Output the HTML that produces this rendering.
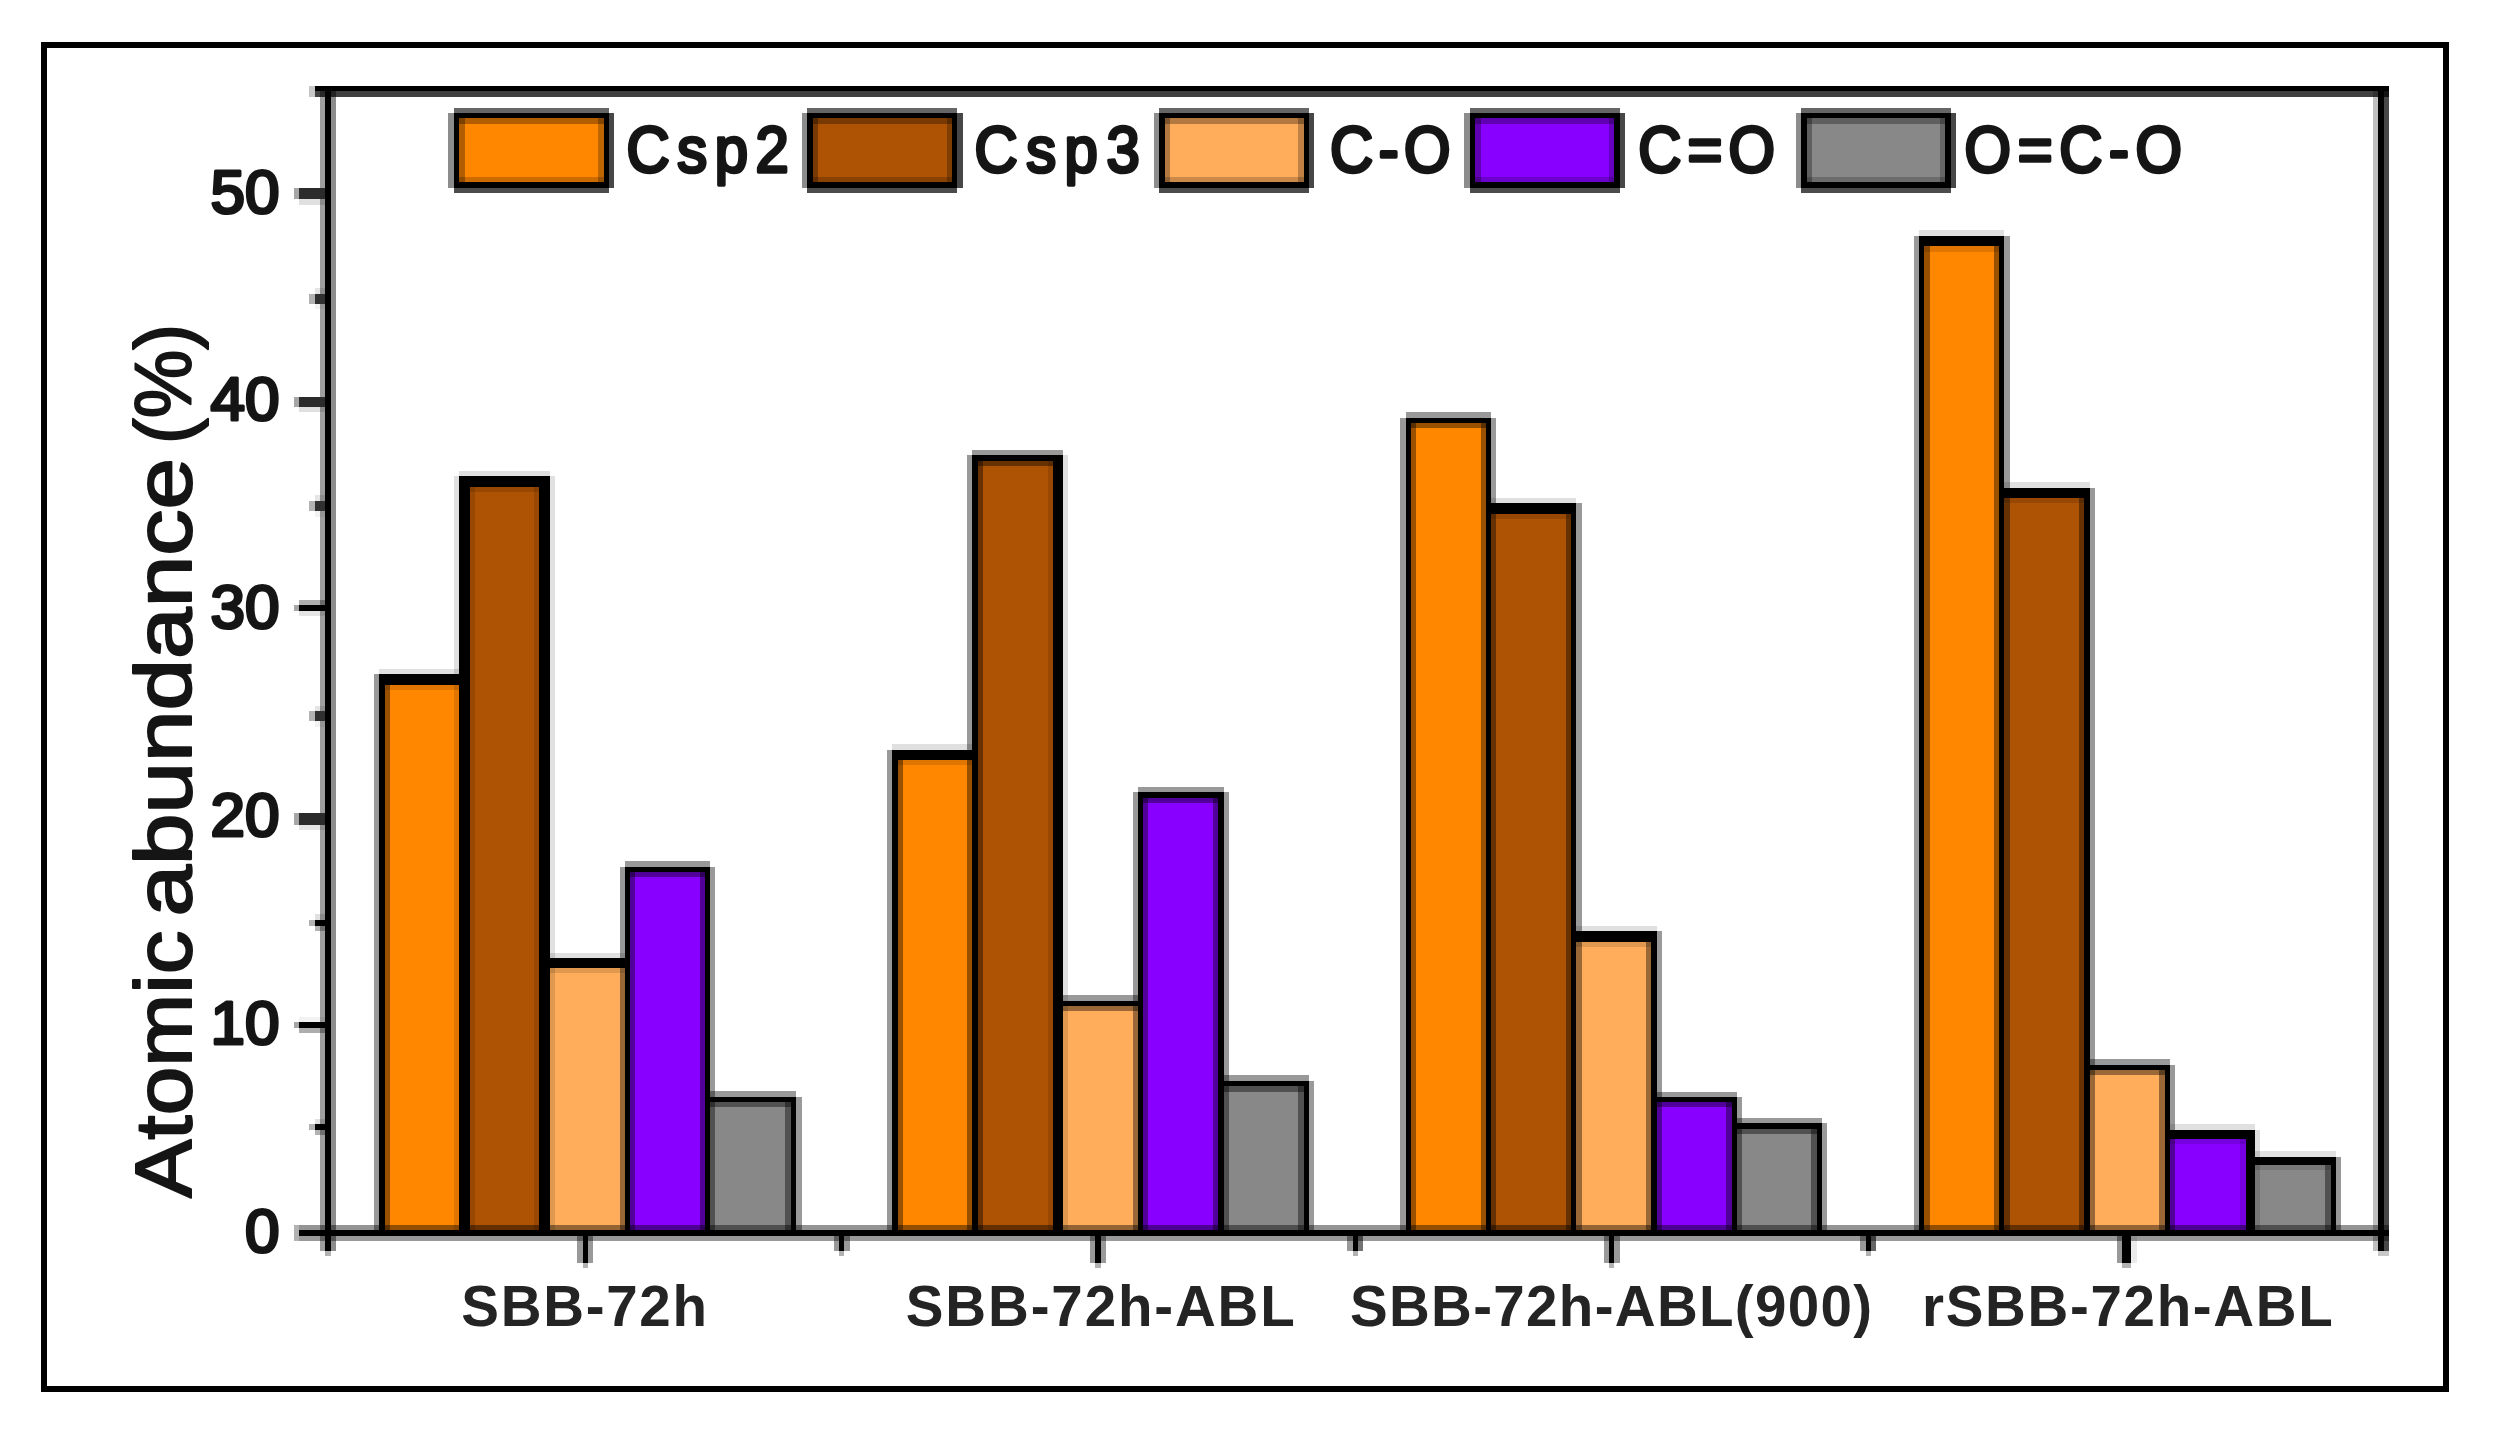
<!DOCTYPE html>
<html lang="en"><head><meta charset="utf-8"><title>Atomic abundance chart</title>
<style>
html,body{margin:0;padding:0;background:#fff;}
body{width:2496px;height:1432px;overflow:hidden;font-family:"Liberation Sans",Arial,sans-serif;}
svg text{font-family:"Liberation Sans",Arial,Helvetica,sans-serif;}
</style></head><body>
<svg width="2496" height="1432" viewBox="0 0 2496 1432" style="display:block" shape-rendering="crispEdges">
<rect width="2496" height="1432" fill="#fff"/>
<rect x="44" y="45" width="2402" height="1344" fill="none" stroke="#000" stroke-width="6"/>
<g id="fills">
<rect x="384.00" y="684.00" width="75.75" height="546.50" fill="#FF8700"/>
<rect x="469.50" y="486.25" width="70.00" height="744.25" fill="#AD5303"/>
<rect x="549.50" y="967.50" width="76.00" height="263.00" fill="#FFAD5B"/>
<rect x="629.50" y="871.50" width="76.00" height="359.00" fill="#8800FF"/>
<rect x="709.50" y="1101.50" width="81.75" height="129.00" fill="#888888"/>
<rect x="897.10" y="759.00" width="75.50" height="471.50" fill="#FF8700"/>
<rect x="977.10" y="460.00" width="76.40" height="770.50" fill="#AD5303"/>
<rect x="1062.50" y="1005.25" width="76.00" height="225.25" fill="#FFAD5B"/>
<rect x="1142.50" y="797.00" width="76.00" height="433.50" fill="#8800FF"/>
<rect x="1223.00" y="1085.75" width="81.00" height="144.75" fill="#888888"/>
<rect x="1410.10" y="422.50" width="76.30" height="808.00" fill="#FF8700"/>
<rect x="1490.50" y="513.25" width="81.00" height="717.25" fill="#AD5303"/>
<rect x="1575.70" y="941.25" width="76.05" height="289.25" fill="#FFAD5B"/>
<rect x="1656.25" y="1101.50" width="76.00" height="129.00" fill="#8800FF"/>
<rect x="1736.25" y="1128.25" width="81.00" height="102.25" fill="#888888"/>
<rect x="1923.75" y="245.75" width="75.75" height="984.75" fill="#FF8700"/>
<rect x="2003.90" y="497.00" width="80.90" height="733.50" fill="#AD5303"/>
<rect x="2089.30" y="1069.50" width="75.70" height="161.00" fill="#FFAD5B"/>
<rect x="2169.50" y="1138.25" width="76.75" height="92.25" fill="#8800FF"/>
<rect x="2254.00" y="1164.50" width="77.25" height="66.00" fill="#888888"/>
<rect x="458.70" y="117.70" width="145.35" height="64.80" fill="#FF8700"/>
<rect x="812.20" y="117.70" width="140.10" height="64.80" fill="#AD5303"/>
<rect x="1164.50" y="117.70" width="139.50" height="64.80" fill="#FFAD5B"/>
<rect x="1474.70" y="117.70" width="140.10" height="64.80" fill="#8800FF"/>
<rect x="1806.50" y="117.70" width="139.40" height="64.80" fill="#888888"/>
</g>
<g id="flanks">
<rect x="379.25" y="668.95" width="90.75" height="5.30" fill="#000" fill-opacity="0.12"/>
<rect x="379.25" y="684.50" width="90.75" height="5.30" fill="#000" fill-opacity="0.12"/>
<rect x="459.25" y="470.95" width="90.75" height="5.30" fill="#000" fill-opacity="0.12"/>
<rect x="459.25" y="486.75" width="90.75" height="5.30" fill="#000" fill-opacity="0.12"/>
<rect x="539.00" y="952.70" width="91.00" height="5.30" fill="#000" fill-opacity="0.12"/>
<rect x="539.00" y="968.00" width="91.00" height="5.30" fill="#000" fill-opacity="0.12"/>
<rect x="625.00" y="861.45" width="85.00" height="5.30" fill="#000" fill-opacity="0.4"/>
<rect x="625.00" y="872.00" width="85.00" height="5.30" fill="#000" fill-opacity="0.4"/>
<rect x="705.00" y="1091.20" width="91.25" height="5.30" fill="#000" fill-opacity="0.4"/>
<rect x="705.00" y="1102.00" width="91.25" height="5.30" fill="#000" fill-opacity="0.4"/>
<rect x="373.95" y="674.25" width="5.30" height="555.75" fill="#000" fill-opacity="0.4"/>
<rect x="384.50" y="674.25" width="5.30" height="555.75" fill="#000" fill-opacity="0.4"/>
<rect x="453.95" y="476.25" width="5.30" height="753.75" fill="#000" fill-opacity="0.12"/>
<rect x="470.00" y="476.25" width="5.30" height="753.75" fill="#000" fill-opacity="0.12"/>
<rect x="533.70" y="476.25" width="5.30" height="753.75" fill="#000" fill-opacity="0.12"/>
<rect x="550.00" y="476.25" width="5.30" height="753.75" fill="#000" fill-opacity="0.12"/>
<rect x="619.70" y="866.75" width="5.30" height="363.25" fill="#000" fill-opacity="0.4"/>
<rect x="630.00" y="866.75" width="5.30" height="363.25" fill="#000" fill-opacity="0.4"/>
<rect x="699.70" y="866.75" width="5.30" height="363.25" fill="#000" fill-opacity="0.4"/>
<rect x="710.00" y="866.75" width="5.30" height="363.25" fill="#000" fill-opacity="0.4"/>
<rect x="785.45" y="1096.50" width="5.30" height="133.50" fill="#000" fill-opacity="0.4"/>
<rect x="796.25" y="1096.50" width="5.30" height="133.50" fill="#000" fill-opacity="0.4"/>
<rect x="892.00" y="744.20" width="85.60" height="5.30" fill="#000" fill-opacity="0.12"/>
<rect x="892.00" y="759.50" width="85.60" height="5.30" fill="#000" fill-opacity="0.12"/>
<rect x="972.10" y="449.70" width="90.90" height="5.30" fill="#000" fill-opacity="0.4"/>
<rect x="972.10" y="460.50" width="90.90" height="5.30" fill="#000" fill-opacity="0.4"/>
<rect x="1053.00" y="995.20" width="90.00" height="5.30" fill="#000" fill-opacity="0.4"/>
<rect x="1053.00" y="1005.75" width="90.00" height="5.30" fill="#000" fill-opacity="0.4"/>
<rect x="1138.00" y="786.70" width="85.50" height="5.30" fill="#000" fill-opacity="0.4"/>
<rect x="1138.00" y="797.50" width="85.50" height="5.30" fill="#000" fill-opacity="0.4"/>
<rect x="1218.00" y="1075.45" width="91.00" height="5.30" fill="#000" fill-opacity="0.4"/>
<rect x="1218.00" y="1086.25" width="91.00" height="5.30" fill="#000" fill-opacity="0.4"/>
<rect x="886.70" y="749.50" width="5.30" height="480.50" fill="#000" fill-opacity="0.4"/>
<rect x="897.60" y="749.50" width="5.30" height="480.50" fill="#000" fill-opacity="0.4"/>
<rect x="966.80" y="455.00" width="5.30" height="775.00" fill="#000" fill-opacity="0.4"/>
<rect x="977.60" y="455.00" width="5.30" height="775.00" fill="#000" fill-opacity="0.4"/>
<rect x="1047.70" y="455.00" width="5.30" height="775.00" fill="#000" fill-opacity="0.12"/>
<rect x="1063.00" y="455.00" width="5.30" height="775.00" fill="#000" fill-opacity="0.12"/>
<rect x="1132.70" y="792.00" width="5.30" height="438.00" fill="#000" fill-opacity="0.4"/>
<rect x="1143.00" y="792.00" width="5.30" height="438.00" fill="#000" fill-opacity="0.4"/>
<rect x="1212.70" y="792.00" width="5.30" height="438.00" fill="#000" fill-opacity="0.4"/>
<rect x="1223.50" y="792.00" width="5.30" height="438.00" fill="#000" fill-opacity="0.4"/>
<rect x="1298.20" y="1080.75" width="5.30" height="149.25" fill="#000" fill-opacity="0.4"/>
<rect x="1309.00" y="1080.75" width="5.30" height="149.25" fill="#000" fill-opacity="0.4"/>
<rect x="1405.50" y="412.20" width="85.50" height="5.30" fill="#000" fill-opacity="0.4"/>
<rect x="1405.50" y="423.00" width="85.50" height="5.30" fill="#000" fill-opacity="0.4"/>
<rect x="1485.90" y="497.70" width="90.30" height="5.30" fill="#000" fill-opacity="0.12"/>
<rect x="1485.90" y="513.75" width="90.30" height="5.30" fill="#000" fill-opacity="0.12"/>
<rect x="1571.00" y="925.70" width="85.75" height="5.30" fill="#000" fill-opacity="0.12"/>
<rect x="1571.00" y="941.75" width="85.75" height="5.30" fill="#000" fill-opacity="0.12"/>
<rect x="1651.25" y="1091.70" width="85.50" height="5.30" fill="#000" fill-opacity="0.4"/>
<rect x="1651.25" y="1102.00" width="85.50" height="5.30" fill="#000" fill-opacity="0.4"/>
<rect x="1731.75" y="1117.70" width="90.00" height="5.30" fill="#000" fill-opacity="0.4"/>
<rect x="1731.75" y="1128.75" width="90.00" height="5.30" fill="#000" fill-opacity="0.4"/>
<rect x="1400.20" y="417.50" width="5.30" height="812.50" fill="#000" fill-opacity="0.4"/>
<rect x="1410.60" y="417.50" width="5.30" height="812.50" fill="#000" fill-opacity="0.4"/>
<rect x="1480.60" y="417.50" width="5.30" height="812.50" fill="#000" fill-opacity="0.4"/>
<rect x="1491.00" y="417.50" width="5.30" height="812.50" fill="#000" fill-opacity="0.4"/>
<rect x="1565.70" y="503.00" width="5.30" height="727.00" fill="#000" fill-opacity="0.4"/>
<rect x="1576.20" y="503.00" width="5.30" height="727.00" fill="#000" fill-opacity="0.4"/>
<rect x="1645.95" y="931.00" width="5.30" height="299.00" fill="#000" fill-opacity="0.4"/>
<rect x="1656.75" y="931.00" width="5.30" height="299.00" fill="#000" fill-opacity="0.4"/>
<rect x="1726.45" y="1097.00" width="5.30" height="133.00" fill="#000" fill-opacity="0.4"/>
<rect x="1736.75" y="1097.00" width="5.30" height="133.00" fill="#000" fill-opacity="0.4"/>
<rect x="1811.45" y="1123.00" width="5.30" height="107.00" fill="#000" fill-opacity="0.4"/>
<rect x="1821.75" y="1123.00" width="5.30" height="107.00" fill="#000" fill-opacity="0.4"/>
<rect x="1919.10" y="230.45" width="85.30" height="5.30" fill="#000" fill-opacity="0.12"/>
<rect x="1919.10" y="246.25" width="85.30" height="5.30" fill="#000" fill-opacity="0.12"/>
<rect x="1999.00" y="482.20" width="90.80" height="5.30" fill="#000" fill-opacity="0.12"/>
<rect x="1999.00" y="497.50" width="90.80" height="5.30" fill="#000" fill-opacity="0.12"/>
<rect x="2084.30" y="1059.20" width="85.70" height="5.30" fill="#000" fill-opacity="0.4"/>
<rect x="2084.30" y="1070.00" width="85.70" height="5.30" fill="#000" fill-opacity="0.4"/>
<rect x="2164.50" y="1124.20" width="90.00" height="5.30" fill="#000" fill-opacity="0.12"/>
<rect x="2164.50" y="1138.75" width="90.00" height="5.30" fill="#000" fill-opacity="0.12"/>
<rect x="2245.75" y="1151.45" width="90.00" height="5.30" fill="#000" fill-opacity="0.12"/>
<rect x="2245.75" y="1165.00" width="90.00" height="5.30" fill="#000" fill-opacity="0.12"/>
<rect x="1913.80" y="235.75" width="5.30" height="994.25" fill="#000" fill-opacity="0.4"/>
<rect x="1924.25" y="235.75" width="5.30" height="994.25" fill="#000" fill-opacity="0.4"/>
<rect x="1993.70" y="235.75" width="5.30" height="994.25" fill="#000" fill-opacity="0.4"/>
<rect x="2004.40" y="235.75" width="5.30" height="994.25" fill="#000" fill-opacity="0.4"/>
<rect x="2079.00" y="487.50" width="5.30" height="742.50" fill="#000" fill-opacity="0.4"/>
<rect x="2089.80" y="487.50" width="5.30" height="742.50" fill="#000" fill-opacity="0.4"/>
<rect x="2159.20" y="1064.50" width="5.30" height="165.50" fill="#000" fill-opacity="0.4"/>
<rect x="2170.00" y="1064.50" width="5.30" height="165.50" fill="#000" fill-opacity="0.4"/>
<rect x="2240.45" y="1129.50" width="5.30" height="100.50" fill="#000" fill-opacity="0.12"/>
<rect x="2254.50" y="1129.50" width="5.30" height="100.50" fill="#000" fill-opacity="0.12"/>
<rect x="2325.45" y="1156.75" width="5.30" height="73.25" fill="#000" fill-opacity="0.4"/>
<rect x="2335.75" y="1156.75" width="5.30" height="73.25" fill="#000" fill-opacity="0.4"/>
<rect x="315.00" y="91.30" width="2074.00" height="5.30" fill="#000" fill-opacity="0.75"/>
<rect x="309.00" y="86.00" width="6.00" height="11.00" fill="#000" fill-opacity="0.22"/>
<rect x="319.70" y="86.00" width="5.30" height="1165.00" fill="#000" fill-opacity="0.38"/>
<rect x="330.50" y="86.00" width="5.30" height="1165.00" fill="#000" fill-opacity="0.45"/>
<rect x="325.00" y="1251.00" width="5.50" height="5.00" fill="#000" fill-opacity="0.3"/>
<rect x="2372.95" y="86.00" width="5.30" height="1165.00" fill="#000" fill-opacity="0.25"/>
<rect x="2383.60" y="86.00" width="5.30" height="1165.00" fill="#000" fill-opacity="0.72"/>
<rect x="2378.00" y="1251.00" width="11.00" height="5.00" fill="#000" fill-opacity="0.22"/>
<rect x="298.75" y="1224.70" width="2090.25" height="5.30" fill="#000" fill-opacity="0.42"/>
<rect x="298.75" y="1235.50" width="2090.25" height="5.30" fill="#000" fill-opacity="0.4"/>
<rect x="293.50" y="1224.70" width="5.25" height="16.10" fill="#000" fill-opacity="0.3"/>
<rect x="298.75" y="199.20" width="26.25" height="5.30" fill="#000" fill-opacity="0.12"/>
<rect x="293.50" y="188.00" width="5.25" height="11.20" fill="#000" fill-opacity="0.35"/>
<rect x="298.75" y="407.00" width="26.25" height="5.30" fill="#000" fill-opacity="0.12"/>
<rect x="293.50" y="396.70" width="5.25" height="10.30" fill="#000" fill-opacity="0.35"/>
<rect x="298.75" y="599.50" width="26.25" height="5.30" fill="#000" fill-opacity="0.32"/>
<rect x="298.75" y="610.60" width="26.25" height="5.30" fill="#000" fill-opacity="0.1"/>
<rect x="293.50" y="604.80" width="5.25" height="5.80" fill="#000" fill-opacity="0.35"/>
<rect x="298.75" y="824.60" width="26.25" height="5.30" fill="#000" fill-opacity="0.1"/>
<rect x="293.50" y="813.20" width="5.25" height="11.40" fill="#000" fill-opacity="0.35"/>
<rect x="298.75" y="1016.70" width="26.25" height="5.30" fill="#000" fill-opacity="0.05"/>
<rect x="298.75" y="1027.60" width="26.25" height="5.30" fill="#000" fill-opacity="0.32"/>
<rect x="293.50" y="1022.00" width="5.25" height="5.60" fill="#000" fill-opacity="0.35"/>
<rect x="314.50" y="288.45" width="10.50" height="5.30" fill="#000" fill-opacity="0.1"/>
<rect x="314.50" y="303.90" width="10.50" height="5.30" fill="#000" fill-opacity="0.05"/>
<rect x="309.20" y="293.75" width="5.30" height="10.15" fill="#000" fill-opacity="0.3"/>
<rect x="314.50" y="495.30" width="10.50" height="5.30" fill="#000" fill-opacity="0.1"/>
<rect x="314.50" y="511.40" width="10.50" height="5.30" fill="#000" fill-opacity="0.05"/>
<rect x="309.20" y="500.60" width="5.30" height="10.80" fill="#000" fill-opacity="0.3"/>
<rect x="314.50" y="705.70" width="10.50" height="5.30" fill="#000" fill-opacity="0.1"/>
<rect x="314.50" y="721.40" width="10.50" height="5.30" fill="#000" fill-opacity="0.05"/>
<rect x="309.20" y="711.00" width="5.30" height="10.40" fill="#000" fill-opacity="0.3"/>
<rect x="314.50" y="914.40" width="10.50" height="5.30" fill="#000" fill-opacity="0.12"/>
<rect x="314.50" y="925.60" width="10.50" height="5.30" fill="#000" fill-opacity="0.3"/>
<rect x="309.20" y="919.70" width="5.30" height="5.90" fill="#000" fill-opacity="0.3"/>
<rect x="314.50" y="1118.60" width="10.50" height="5.30" fill="#000" fill-opacity="0.12"/>
<rect x="314.50" y="1129.60" width="10.50" height="5.30" fill="#000" fill-opacity="0.3"/>
<rect x="309.20" y="1123.90" width="5.30" height="5.70" fill="#000" fill-opacity="0.3"/>
<rect x="577.20" y="1235.50" width="5.30" height="27.00" fill="#000" fill-opacity="0.4"/>
<rect x="587.60" y="1235.50" width="5.30" height="27.00" fill="#000" fill-opacity="0.4"/>
<rect x="582.50" y="1262.50" width="5.10" height="5.00" fill="#000" fill-opacity="0.3"/>
<rect x="1089.90" y="1235.50" width="5.30" height="27.00" fill="#000" fill-opacity="0.4"/>
<rect x="1101.00" y="1235.50" width="5.30" height="27.00" fill="#000" fill-opacity="0.4"/>
<rect x="1095.20" y="1262.50" width="5.80" height="5.00" fill="#000" fill-opacity="0.3"/>
<rect x="1603.95" y="1235.50" width="5.30" height="27.00" fill="#000" fill-opacity="0.4"/>
<rect x="1614.40" y="1235.50" width="5.30" height="27.00" fill="#000" fill-opacity="0.4"/>
<rect x="1609.25" y="1262.50" width="5.15" height="5.00" fill="#000" fill-opacity="0.3"/>
<rect x="2116.70" y="1235.50" width="5.30" height="27.00" fill="#000" fill-opacity="0.4"/>
<rect x="2131.25" y="1235.50" width="5.30" height="27.00" fill="#000" fill-opacity="0.08"/>
<rect x="2122.00" y="1262.50" width="9.25" height="5.00" fill="#000" fill-opacity="0.3"/>
<rect x="833.70" y="1235.50" width="5.30" height="15.50" fill="#000" fill-opacity="0.4"/>
<rect x="844.20" y="1235.50" width="5.30" height="15.50" fill="#000" fill-opacity="0.4"/>
<rect x="839.00" y="1251.00" width="5.20" height="5.00" fill="#000" fill-opacity="0.3"/>
<rect x="1347.45" y="1235.50" width="5.30" height="15.50" fill="#000" fill-opacity="0.4"/>
<rect x="1357.90" y="1235.50" width="5.30" height="15.50" fill="#000" fill-opacity="0.55"/>
<rect x="1352.75" y="1251.00" width="5.15" height="5.00" fill="#000" fill-opacity="0.3"/>
<rect x="1860.20" y="1235.50" width="5.30" height="15.50" fill="#000" fill-opacity="0.4"/>
<rect x="1870.60" y="1235.50" width="5.30" height="15.50" fill="#000" fill-opacity="0.6"/>
<rect x="1865.50" y="1251.00" width="5.10" height="5.00" fill="#000" fill-opacity="0.3"/>
<rect x="453.60" y="107.50" width="155.55" height="5.30" fill="#000" fill-opacity="0.6"/>
<rect x="453.60" y="118.20" width="155.55" height="5.30" fill="#000" fill-opacity="0.3"/>
<rect x="453.60" y="176.70" width="155.55" height="5.30" fill="#000" fill-opacity="0.2"/>
<rect x="453.60" y="187.50" width="155.55" height="5.30" fill="#000" fill-opacity="0.7"/>
<rect x="448.30" y="112.80" width="5.30" height="74.70" fill="#000" fill-opacity="0.45"/>
<rect x="459.20" y="112.80" width="5.30" height="74.70" fill="#000" fill-opacity="0.3"/>
<rect x="598.25" y="112.80" width="5.30" height="74.70" fill="#000" fill-opacity="0.25"/>
<rect x="609.15" y="112.80" width="5.30" height="74.70" fill="#000" fill-opacity="0.72"/>
<rect x="807.10" y="107.50" width="150.30" height="5.30" fill="#000" fill-opacity="0.6"/>
<rect x="807.10" y="118.20" width="150.30" height="5.30" fill="#000" fill-opacity="0.3"/>
<rect x="807.10" y="176.70" width="150.30" height="5.30" fill="#000" fill-opacity="0.2"/>
<rect x="807.10" y="187.50" width="150.30" height="5.30" fill="#000" fill-opacity="0.7"/>
<rect x="801.80" y="112.80" width="5.30" height="74.70" fill="#000" fill-opacity="0.45"/>
<rect x="812.70" y="112.80" width="5.30" height="74.70" fill="#000" fill-opacity="0.3"/>
<rect x="946.50" y="112.80" width="5.30" height="74.70" fill="#000" fill-opacity="0.25"/>
<rect x="957.40" y="112.80" width="5.30" height="74.70" fill="#000" fill-opacity="0.72"/>
<rect x="1159.40" y="107.50" width="149.70" height="5.30" fill="#000" fill-opacity="0.6"/>
<rect x="1159.40" y="118.20" width="149.70" height="5.30" fill="#000" fill-opacity="0.3"/>
<rect x="1159.40" y="176.70" width="149.70" height="5.30" fill="#000" fill-opacity="0.2"/>
<rect x="1159.40" y="187.50" width="149.70" height="5.30" fill="#000" fill-opacity="0.7"/>
<rect x="1154.10" y="112.80" width="5.30" height="74.70" fill="#000" fill-opacity="0.45"/>
<rect x="1165.00" y="112.80" width="5.30" height="74.70" fill="#000" fill-opacity="0.3"/>
<rect x="1298.20" y="112.80" width="5.30" height="74.70" fill="#000" fill-opacity="0.25"/>
<rect x="1309.10" y="112.80" width="5.30" height="74.70" fill="#000" fill-opacity="0.72"/>
<rect x="1469.60" y="107.50" width="150.30" height="5.30" fill="#000" fill-opacity="0.6"/>
<rect x="1469.60" y="118.20" width="150.30" height="5.30" fill="#000" fill-opacity="0.3"/>
<rect x="1469.60" y="176.70" width="150.30" height="5.30" fill="#000" fill-opacity="0.2"/>
<rect x="1469.60" y="187.50" width="150.30" height="5.30" fill="#000" fill-opacity="0.7"/>
<rect x="1464.30" y="112.80" width="5.30" height="74.70" fill="#000" fill-opacity="0.45"/>
<rect x="1475.20" y="112.80" width="5.30" height="74.70" fill="#000" fill-opacity="0.3"/>
<rect x="1609.00" y="112.80" width="5.30" height="74.70" fill="#000" fill-opacity="0.25"/>
<rect x="1619.90" y="112.80" width="5.30" height="74.70" fill="#000" fill-opacity="0.72"/>
<rect x="1801.40" y="107.50" width="149.60" height="5.30" fill="#000" fill-opacity="0.6"/>
<rect x="1801.40" y="118.20" width="149.60" height="5.30" fill="#000" fill-opacity="0.3"/>
<rect x="1801.40" y="176.70" width="149.60" height="5.30" fill="#000" fill-opacity="0.2"/>
<rect x="1801.40" y="187.50" width="149.60" height="5.30" fill="#000" fill-opacity="0.7"/>
<rect x="1796.10" y="112.80" width="5.30" height="74.70" fill="#000" fill-opacity="0.45"/>
<rect x="1807.00" y="112.80" width="5.30" height="74.70" fill="#000" fill-opacity="0.3"/>
<rect x="1940.10" y="112.80" width="5.30" height="74.70" fill="#000" fill-opacity="0.25"/>
<rect x="1951.00" y="112.80" width="5.30" height="74.70" fill="#000" fill-opacity="0.72"/>
</g>
<g id="lines">
<rect x="379.25" y="674.25" width="90.75" height="10.25" fill="#000"/>
<rect x="459.25" y="476.25" width="90.75" height="10.50" fill="#000"/>
<rect x="539.00" y="958.00" width="91.00" height="10.00" fill="#000"/>
<rect x="625.00" y="866.75" width="85.00" height="5.25" fill="#000"/>
<rect x="705.00" y="1096.50" width="91.25" height="5.50" fill="#000"/>
<rect x="379.25" y="674.25" width="5.25" height="555.75" fill="#000"/>
<rect x="459.25" y="476.25" width="10.75" height="753.75" fill="#000"/>
<rect x="539.00" y="476.25" width="11.00" height="753.75" fill="#000"/>
<rect x="625.00" y="866.75" width="5.00" height="363.25" fill="#000"/>
<rect x="705.00" y="866.75" width="5.00" height="363.25" fill="#000"/>
<rect x="790.75" y="1096.50" width="5.50" height="133.50" fill="#000"/>
<rect x="892.00" y="749.50" width="85.60" height="10.00" fill="#000"/>
<rect x="972.10" y="455.00" width="90.90" height="5.50" fill="#000"/>
<rect x="1053.00" y="1000.50" width="90.00" height="5.25" fill="#000"/>
<rect x="1138.00" y="792.00" width="85.50" height="5.50" fill="#000"/>
<rect x="1218.00" y="1080.75" width="91.00" height="5.50" fill="#000"/>
<rect x="892.00" y="749.50" width="5.60" height="480.50" fill="#000"/>
<rect x="972.10" y="455.00" width="5.50" height="775.00" fill="#000"/>
<rect x="1053.00" y="455.00" width="10.00" height="775.00" fill="#000"/>
<rect x="1138.00" y="792.00" width="5.00" height="438.00" fill="#000"/>
<rect x="1218.00" y="792.00" width="5.50" height="438.00" fill="#000"/>
<rect x="1303.50" y="1080.75" width="5.50" height="149.25" fill="#000"/>
<rect x="1405.50" y="417.50" width="85.50" height="5.50" fill="#000"/>
<rect x="1485.90" y="503.00" width="90.30" height="10.75" fill="#000"/>
<rect x="1571.00" y="931.00" width="85.75" height="10.75" fill="#000"/>
<rect x="1651.25" y="1097.00" width="85.50" height="5.00" fill="#000"/>
<rect x="1731.75" y="1123.00" width="90.00" height="5.75" fill="#000"/>
<rect x="1405.50" y="417.50" width="5.10" height="812.50" fill="#000"/>
<rect x="1485.90" y="417.50" width="5.10" height="812.50" fill="#000"/>
<rect x="1571.00" y="503.00" width="5.20" height="727.00" fill="#000"/>
<rect x="1651.25" y="931.00" width="5.50" height="299.00" fill="#000"/>
<rect x="1731.75" y="1097.00" width="5.00" height="133.00" fill="#000"/>
<rect x="1816.75" y="1123.00" width="5.00" height="107.00" fill="#000"/>
<rect x="1919.10" y="235.75" width="85.30" height="10.50" fill="#000"/>
<rect x="1999.00" y="487.50" width="90.80" height="10.00" fill="#000"/>
<rect x="2084.30" y="1064.50" width="85.70" height="5.50" fill="#000"/>
<rect x="2164.50" y="1129.50" width="90.00" height="9.25" fill="#000"/>
<rect x="2245.75" y="1156.75" width="90.00" height="8.25" fill="#000"/>
<rect x="1919.10" y="235.75" width="5.15" height="994.25" fill="#000"/>
<rect x="1999.00" y="235.75" width="5.40" height="994.25" fill="#000"/>
<rect x="2084.30" y="487.50" width="5.50" height="742.50" fill="#000"/>
<rect x="2164.50" y="1064.50" width="5.50" height="165.50" fill="#000"/>
<rect x="2245.75" y="1129.50" width="8.75" height="100.50" fill="#000"/>
<rect x="2330.75" y="1156.75" width="5.00" height="73.25" fill="#000"/>
<rect x="315.00" y="86.00" width="2074.00" height="5.30" fill="#000"/>
<rect x="325.00" y="86.00" width="5.50" height="1165.00" fill="#000"/>
<rect x="2378.25" y="86.00" width="5.35" height="1165.00" fill="#000"/>
<rect x="298.75" y="1230.00" width="2090.25" height="5.50" fill="#000"/>
<rect x="298.75" y="188.00" width="26.25" height="11.20" fill="#2b2b2b"/>
<rect x="298.75" y="396.70" width="26.25" height="10.30" fill="#2b2b2b"/>
<rect x="298.75" y="604.80" width="26.25" height="5.80" fill="#000"/>
<rect x="298.75" y="813.20" width="26.25" height="11.40" fill="#2b2b2b"/>
<rect x="298.75" y="1022.00" width="26.25" height="5.60" fill="#000"/>
<rect x="314.50" y="293.75" width="10.50" height="10.15" fill="#303030"/>
<rect x="314.50" y="500.60" width="10.50" height="10.80" fill="#303030"/>
<rect x="314.50" y="711.00" width="10.50" height="10.40" fill="#303030"/>
<rect x="314.50" y="919.70" width="10.50" height="5.90" fill="#000"/>
<rect x="314.50" y="1123.90" width="10.50" height="5.70" fill="#000"/>
<rect x="582.50" y="1235.50" width="5.10" height="27.00" fill="#000"/>
<rect x="1095.20" y="1235.50" width="5.80" height="27.00" fill="#000"/>
<rect x="1609.25" y="1235.50" width="5.15" height="27.00" fill="#000"/>
<rect x="2122.00" y="1235.50" width="9.25" height="27.00" fill="#000"/>
<rect x="839.00" y="1235.50" width="5.20" height="15.50" fill="#000"/>
<rect x="1352.75" y="1235.50" width="5.15" height="15.50" fill="#000"/>
<rect x="1865.50" y="1235.50" width="5.10" height="15.50" fill="#000"/>
<rect x="453.60" y="112.80" width="155.55" height="5.40" fill="#000"/>
<rect x="453.60" y="182.00" width="155.55" height="5.50" fill="#000"/>
<rect x="453.60" y="112.80" width="5.60" height="74.70" fill="#000"/>
<rect x="603.55" y="112.80" width="5.60" height="74.70" fill="#000"/>
<rect x="807.10" y="112.80" width="150.30" height="5.40" fill="#000"/>
<rect x="807.10" y="182.00" width="150.30" height="5.50" fill="#000"/>
<rect x="807.10" y="112.80" width="5.60" height="74.70" fill="#000"/>
<rect x="951.80" y="112.80" width="5.60" height="74.70" fill="#000"/>
<rect x="1159.40" y="112.80" width="149.70" height="5.40" fill="#000"/>
<rect x="1159.40" y="182.00" width="149.70" height="5.50" fill="#000"/>
<rect x="1159.40" y="112.80" width="5.60" height="74.70" fill="#000"/>
<rect x="1303.50" y="112.80" width="5.60" height="74.70" fill="#000"/>
<rect x="1469.60" y="112.80" width="150.30" height="5.40" fill="#000"/>
<rect x="1469.60" y="182.00" width="150.30" height="5.50" fill="#000"/>
<rect x="1469.60" y="112.80" width="5.60" height="74.70" fill="#000"/>
<rect x="1614.30" y="112.80" width="5.60" height="74.70" fill="#000"/>
<rect x="1801.40" y="112.80" width="149.60" height="5.40" fill="#000"/>
<rect x="1801.40" y="182.00" width="149.60" height="5.50" fill="#000"/>
<rect x="1801.40" y="112.80" width="5.60" height="74.70" fill="#000"/>
<rect x="1945.40" y="112.80" width="5.60" height="74.70" fill="#000"/>
</g>
<g id="labels" font-family="Liberation Sans, Arial, Helvetica, sans-serif" font-weight="normal" fill="#151515" stroke="#151515" stroke-linejoin="round" shape-rendering="auto">
<text transform="translate(626.5,172.3) scale(0.92,1)" font-size="65" stroke-width="3.6" textLength="176.3" lengthAdjust="spacing">Csp2</text>
<text transform="translate(974.5,172.3) scale(0.92,1)" font-size="65" stroke-width="3.6" textLength="179.5" lengthAdjust="spacing">Csp3</text>
<text transform="translate(1330.0,172.3) scale(0.92,1)" font-size="65" stroke-width="3.6" textLength="131.1" lengthAdjust="spacing">C-O</text>
<text transform="translate(1638.3,172.3) scale(0.92,1)" font-size="65" stroke-width="3.6" textLength="148.6" lengthAdjust="spacing">C=O</text>
<text transform="translate(1964.5,172.3) scale(0.92,1)" font-size="65" stroke-width="3.6" textLength="236.4" lengthAdjust="spacing">O=C-O</text>
<text x="279.5" y="1251.8" font-size="62" stroke-width="3.2" text-anchor="end">0</text>
<text x="279.5" y="1043.9" font-size="62" stroke-width="3.2" text-anchor="end">10</text>
<text x="279.5" y="836.0" font-size="62" stroke-width="3.2" text-anchor="end">20</text>
<text x="279.5" y="628.2" font-size="62" stroke-width="3.2" text-anchor="end">30</text>
<text x="279.5" y="420.4" font-size="62" stroke-width="3.2" text-anchor="end">40</text>
<text x="279.5" y="212.5" font-size="62" stroke-width="3.2" text-anchor="end">50</text>
<text x="461.3" y="1326" font-size="56.5" font-weight="bold" fill="#242424" stroke="none" textLength="245.6" lengthAdjust="spacing">SBB-72h</text>
<text x="905.8" y="1326" font-size="56.5" font-weight="bold" fill="#242424" stroke="none" textLength="389.0" lengthAdjust="spacing">SBB-72h-ABL</text>
<text x="1350.0" y="1326" font-size="56.5" font-weight="bold" fill="#242424" stroke="none" textLength="522.0" lengthAdjust="spacing">SBB-72h-ABL(900)</text>
<text x="1922.0" y="1326" font-size="56.5" font-weight="bold" fill="#242424" stroke="none" textLength="410.8" lengthAdjust="spacing">rSBB-72h-ABL</text>
<g transform="translate(191,1195) rotate(-90)" font-size="80" stroke-width="2.0">
<text x="-3.0" y="0" textLength="267.4" lengthAdjust="spacingAndGlyphs">Atomic</text>
<text x="278.5" y="0" textLength="458.5" lengthAdjust="spacingAndGlyphs">abundance</text>
<text x="751.0" y="0" textLength="120.0" lengthAdjust="spacingAndGlyphs">(%)</text>
</g>
</g></svg>
</body></html>
